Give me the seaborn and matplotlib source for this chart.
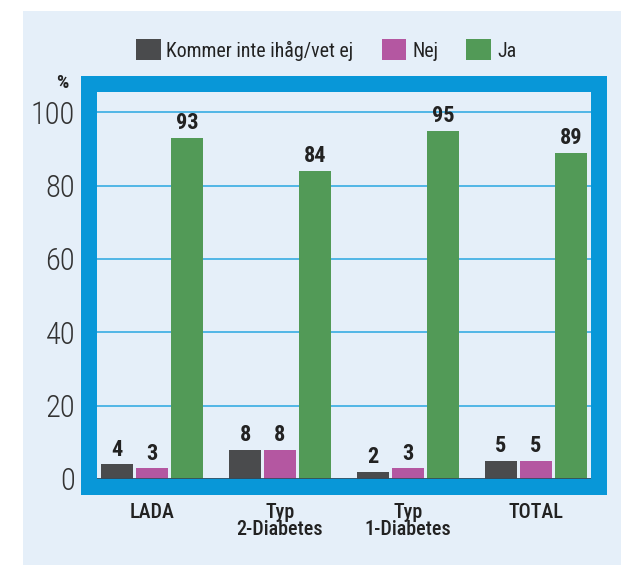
import matplotlib
matplotlib.use("Agg")
import matplotlib.pyplot as plt
from matplotlib import font_manager
from matplotlib.patches import Rectangle, Patch
import seaborn as sns
import pandas as pd

# Chart data
grupper = ["LADA", "Typ\n2-Diabetes", "Typ\n1-Diabetes", "TOTAL"]
svar = ["Kommer inte ihåg/vet ej", "Nej", "Ja"]
vet_ej = [4, 8, 2, 5]
nej = [3, 8, 3, 5]
ja = [93, 84, 95, 89]
y_ticks = [0, 20, 40, 60, 80, 100]

farger = ["#4A4B4D", "#B457A1", "#529A57"]
bakgrund = "#E5EFF9"
ram = "#0897D8"
rutnat = "#29A6E1"

df = pd.DataFrame({
    "grupp": grupper * 3,
    "svar": [svar[0]] * 4 + [svar[1]] * 4 + [svar[2]] * 4,
    "procent": vet_ej + nej + ja,
})

sns.set_theme(style="white")
installed = {f.name for f in font_manager.fontManager.ttflist}
narrow = [n for n in ["Liberation Sans Narrow", "Roboto Condensed",
                      "Open Sans Condensed", "Roboto"] if n in installed]
plt.rcParams["font.family"] = narrow[:1] + ["DejaVu Sans"]

W, H = 621, 565
fig = plt.figure(figsize=(W / 100, H / 100), dpi=100, facecolor="white")

# light panel behind everything
fig.patches.append(Rectangle((23 / W, 0), 1 - 23 / W, 1 - 11 / H,
                             transform=fig.transFigure, facecolor=bakgrund,
                             edgecolor="none", zorder=-10))

ax = fig.add_axes([96 / W, 86 / H, 495 / W, 387 / H])
ax.set_facecolor(bakgrund)

sns.barplot(data=df, x="grupp", y="procent", hue="svar", order=grupper,
            hue_order=svar, palette=farger, saturation=1, width=0.82, gap=0.08,
            legend=False, ax=ax, zorder=3, linewidth=0, edgecolor="none")

for cont in ax.containers:
    ax.bar_label(cont, fmt="%d", padding=2.5, fontsize=16, fontweight="heavy",
                 color="#222222")

ax.set_xlim(-0.4375, 3.43)
ax.set_ylim(0, 105.5)
ax.set_yticks(y_ticks)
ax.yaxis.grid(True, color=rutnat, linewidth=1.1, zorder=1)
ax.set_axisbelow(True)
ax.axhline(0, color="#2F4A5E", linewidth=1.2, zorder=4)
ax.set_xlabel("")
ax.set_ylabel("")
for s in ax.spines.values():
    s.set_visible(False)

ax.tick_params(axis="y", length=0, pad=15, labelsize=22, labelcolor="#333333")
for lbl in ax.get_yticklabels():
    lbl.set_fontweight("light")
ax.tick_params(axis="x", length=0, pad=17, labelsize=14.5, labelcolor="#222222")
for lbl in ax.get_xticklabels():
    lbl.set_fontweight("medium")
    lbl.set_linespacing(0.92)
    lbl.set_verticalalignment("top")

# thick blue frame around the plotting area
fig.patches.append(Rectangle((88.5 / W, (H - 487) / H), (599 - 88.5) / W,
                             (487 - 84) / H, transform=fig.transFigure,
                             facecolor="none", edgecolor=ram,
                             linewidth=16 * 72 / 100, joinstyle="miter",
                             zorder=5))

fig.text(62.5 / W, (H - 83) / H, "%", ha="center", va="center", fontsize=14,
         fontweight="bold", color="#222222")

handles = [Patch(facecolor=c, edgecolor="none") for c in farger]
fig.legend(handles, svar, loc="center", bbox_to_anchor=(326 / W, (H - 50) / H),
           ncol=3, frameon=False, handlelength=1.25,
           handleheight=1.25, handletextpad=0.3, columnspacing=1.4,
           labelcolor="#222222", prop={"weight": "normal", "size": 14.3})

fig.savefig("out.png", dpi=100, facecolor="white")
